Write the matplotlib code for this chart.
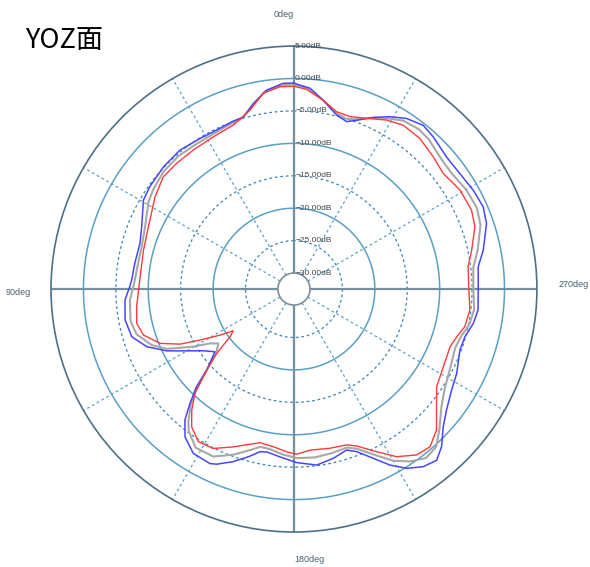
import numpy as np
import matplotlib
matplotlib.use('Agg')
import matplotlib.pyplot as plt
from matplotlib.transforms import offset_copy

# radiation pattern, YOZ plane (angle in deg, gain in dB)
blue_ang = [0, 3, 7.8, 12.4, 16.4, 20.4, 25.9, 32, 39.4, 46.9, 54.6, 59.4, 67.8, 73.5, 80.8, 86.8, 89.4,
            93.7, 100.4, 106.4, 111.4, 115.9, 120, 124.2, 128.4, 132.9, 135.1, 137.7, 140.2, 143.6,
            148.5, 154.3, 156.2, 160.6, 165.2, 168.2, 170.5, 175.2, 180.9, 187.4, 193.1, 198.1, 201.1,
            205.1, 208.6, 212.2, 216, 219.8, 223.1, 227.3, 231.6, 237.4, 242.6, 249.8, 254.4, 259.2,
            263.5, 269.7, 276.9, 281.6, 288.8, 293.5, 298.9, 304.9, 310.9, 317.5, 321.7, 326.6, 330.9,
            335.2, 339.6, 342.5, 346.2, 351.2, 355.4, 359]
blue_db = [-0.7, -0.7, -1.5, -3.2, -4.8, -4.95, -5.2, -5.1, -4.75, -4.9, -5.2, -5.5, -7.1, -7.7, -7.6, -7.4, -7.1,
           -6.35, -6.0, -6.4, -8.1, -10.65, -13.4, -15.55, -16.9, -14.1, -11.2, -8.65, -6.2, -4.15,
           -2.75, -2.6, -2.95, -4.25, -5.8, -6.85, -7.0, -6.5, -5.7, -5.1, -5.67, -6.35, -5.6,
           -3.65, -1.55, 0.2, 1.4, 1.9, 0.84, -1.15, -2.45, -3.6, -4.2, -5.2, -5.1, -4.3,
           -3.9, -4.05, -3.85, -2.67, -1.1, -0.65, -0.9, -1.3, -1.35, -0.65, -0.3, -0.95, -2.05,
           -3.3, -4.7, -5.4, -4.85, -3.0, -1.4, -0.9]

gray_ang = [0, 4, 8.5, 13, 17, 21, 27, 34, 41, 48, 55, 59, 67.5, 74.5, 81, 88, 94, 101, 106, 111.5,
            115.2, 119.8, 122.9, 125.7, 129, 132.9, 135.5, 138.5, 141.5, 143.5, 148.2, 154.3, 160, 165,
            168, 171.5, 176, 181, 187, 193, 198.5, 201.5, 206, 210, 214, 218, 222, 226, 231.5, 236.5,
            242.5, 250, 254, 258.5, 263.5, 270, 277, 282, 289, 294, 300, 306, 311, 318, 322, 327, 331,
            336, 340, 343, 346.5, 351.2, 356]
gray_db = [-0.9, -1.0, -1.7, -3.6, -5.0, -5.2, -5.5, -5.5, -5.3, -5.4, -5.9, -6.3, -7.6, -8.1, -8.1, -7.8,
           -7.1, -6.8, -7.2, -8.9, -10.8, -14.6, -17.05, -18.1, -17.1, -14.1, -10.8, -8.4, -6.3, -5.2,
           -3.7, -3.8, -5.3, -6.8, -7.6, -7.5, -6.9, -6.4, -6.3, -6.5, -6.7, -6.0, -4.0, -1.9, -0.4,
           0.6, 0.3, -1.3, -3.4, -4.6, -5.4, -6.0, -5.7, -4.9, -4.5, -4.8, -4.6, -3.5, -2.05, -1.6,
           -1.8, -2.3, -2.2, -1.4, -1.2, -1.5, -2.4, -3.6, -4.6, -5.0, -4.6, -3.0, -1.5]

red_ang = [0, 4, 8.9, 13.8, 20.3, 27.9, 35.9, 43, 49.3, 56.4, 66.8, 75.5, 88, 96.4, 102.3, 107, 112.1,
           115.8, 118.5, 121.9, 124.5, 126.7, 129.8, 132.9, 136.5, 139.8, 143.4, 147.9, 153.1, 159,
           164.2, 167.5, 172.5, 177.4, 181, 185.7, 192.7, 198.7, 201.8, 206.9, 211.5, 216.5, 220.8,
           225.3, 231.3, 235.6, 242.5, 249.7, 253.7, 257.6, 263.2, 270, 277.3, 282.4, 289, 294, 300.8,
           307.8, 313.5, 320.1, 326.3, 331.3, 336.9, 342, 346.5, 351.2, 356.4]
red_db = [-1.2, -1.2, -1.9, -4.05, -5.5, -5.9, -6.0, -5.95, -5.9, -6.75, -8.05, -8.5, -8.6, -8.05, -7.65,
          -8.2, -10.2, -12.95, -16.0, -19.0, -21.1, -20.2, -17.0, -14.1, -10.3, -8.05, -6.0, -4.7, -4.9,
          -6.4, -7.6, -8.2, -7.95, -7.35, -7.0, -7.5, -7.3, -7.1, -6.4, -4.35, -2.15, -0.65, -0.35,
          -1.55, -4.3, -5.8, -6.5, -6.8, -6.3, -5.5, -5.15, -5.5, -5.4, -4.4, -2.95, -2.5, -2.65,
          -3.35, -2.85, -2.2, -2.1, -2.75, -3.85, -4.5, -4.35, -3.0, -1.6]

ring_db = [5, 0, -5, -10, -15, -20, -25, -30]
spoke_ang = [30, 60, 120, 150, 210, 240, 300, 330]
axis_ang = [0, 90, 180, 270]


def closed(ang, db):
    a = np.deg2rad(np.array(ang + [ang[0] + 360]))
    return a, np.array(db + [db[0]])


fig = plt.figure(figsize=(5.9, 5.67), dpi=100)
ax = fig.add_axes([0.0864, 0.0617, 0.8237, 0.857], projection='polar')
ax.set_theta_zero_location('N')
ax.set_theta_direction(1)
ax.set_rlim(-30, 5)
ax.set_rorigin(-32.47)
ax.grid(False)
ax.set_xticks([])
ax.set_yticks([])
ax.spines['polar'].set_color('#4d7086')
ax.spines['polar'].set_linewidth(1.2)
ax.spines['inner'].set_color('#7b8e9a')
ax.spines['inner'].set_linewidth(1.2)

th = np.linspace(0, 2 * np.pi, 721)
for v in ring_db[1:-1]:
    if v % 10 == 0:
        ax.plot(th, np.full_like(th, v), color='#5c9fc4', lw=1.1, zorder=1)
    else:
        ax.plot(th, np.full_like(th, v), color='#3c84b6', lw=0.9, ls=(0, (2.2, 2.2)), zorder=1)

for a in spoke_ang:
    ax.plot([np.deg2rad(a)] * 2, [-30, 5], color='#5aa2ca', lw=0.9, ls=(0, (2.2, 2.2)), zorder=1)
for a in axis_ang:
    ax.plot([np.deg2rad(a)] * 2, [-30, 5], color='#74909f', lw=1.6, zorder=2)

for ang, db, c, lw in [(gray_ang, gray_db, '#a8a8a8', 1.5),
                       (blue_ang, blue_db, '#4646ff', 1.1),
                       (red_ang, red_db, '#ff3a3a', 1.0)]:
    a, d = closed(ang, db)
    ax.plot(a, d, color=c, lw=lw, zorder=4)

lbl_tr = offset_copy(ax.transData, fig=fig, x=0.8, y=0, units='points')
for v in ring_db:
    txt = f'{v:.2f}dB'.replace('-', '\u2212')
    ax.text(0, v, txt, ha='left', va='center', fontsize=6, transform=lbl_tr,
            family='Liberation Sans', color='#404850', zorder=5)

lab_kw = dict(fontsize=6.5, family='Liberation Sans', color='#48606e', va='center')
ax.text(0, 9.8, '0deg', ha='right', **lab_kw)
ax.text(np.deg2rad(90.8), 10.0, '90deg', ha='center', **lab_kw)
ax.text(np.pi, 9.3, '180deg', ha='left', **lab_kw)
ax.text(np.deg2rad(271), 10.7, '270deg', ha='center', **lab_kw)

fig.text(25 / 590, 1 - 48 / 567, 'YOZ面', fontsize=19.5,
         family=['Noto Sans CJK SC', 'DejaVu Sans'], va='baseline', ha='left')

fig.savefig('out.png', dpi=100)
